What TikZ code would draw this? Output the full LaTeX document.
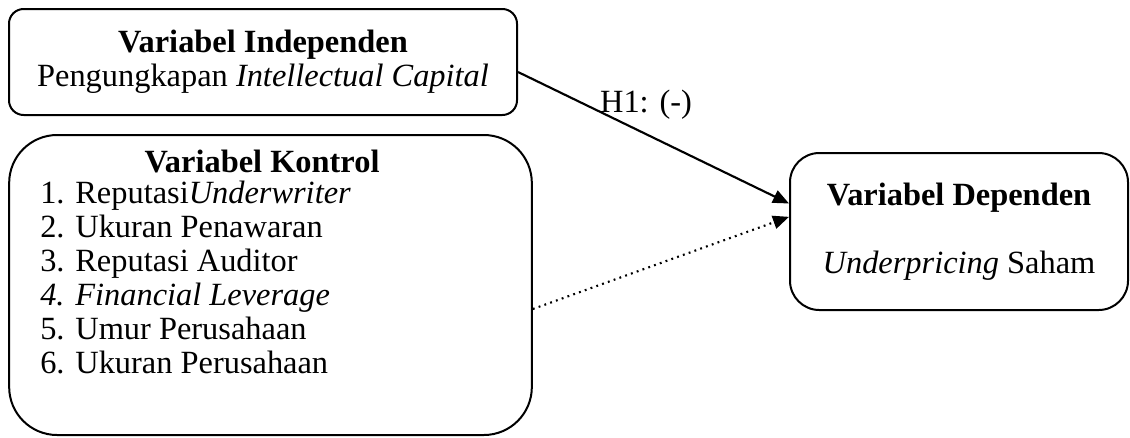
\documentclass[tikz,border=0pt]{standalone}
\usepackage{fontspec}
\setmainfont{Liberation Serif}
\usetikzlibrary{positioning,arrows.meta}

\begin{document}
\begin{tikzpicture}[x=0.75pt, y=-0.75pt, font=\fontsize{24.3}{25.5}\selectfont]
    % Define styles
    \tikzstyle{varbox} = [rectangle, draw=black, line width=1.5pt, align=center]
    \tikzstyle{arrow} = [line width=1.6pt, -{Triangle[length=12pt, width=10pt]}]
    \tikzstyle{dotarrow} = [line width=1.6pt, dash pattern=on 1.4pt off 3.2pt, -{Triangle[length=12pt, width=10pt]}]

    \useasboundingbox (0,0) rectangle (1130,437);

    % Nodes
    \node (independen) [varbox, rounded corners=11pt, minimum width=381pt, minimum height=79.5pt] at (263,62)
        {\textbf{Variabel Independen}\\Pengungkapan \textit{Intellectual Capital}};
    \node (kontrol) [varbox, rounded corners=36pt, minimum width=392pt, minimum height=225pt] at (270.5,285) {};
    \node (kontrol title) at (262,161) {\textbf{Variabel Kontrol}};
    \node (kontrol list) [anchor=north west, align=left, inner sep=0pt] at (40,181)
        {1. Reputasi\textit{Underwriter}\\2. Ukuran Penawaran\\3. Reputasi Auditor\\\textit{4. Financial Leverage}\\5. Umur Perusahaan\\6. Ukuran Perusahaan};
    \node (dependen) [varbox, rounded corners=22pt, minimum width=253.5pt, minimum height=117.75pt] at (959,231.5)
        {\textbf{Variabel Dependen}\\[25.5pt]\textit{Underpricing} Saham};
    \node (h1) at (646,105) {H1: (-)};

    % Arrows
    \draw [arrow] ([yshift=-7.5pt]independen.east) -- ([yshift=21pt]dependen.west);
    \draw [dotarrow] ([yshift=-18pt]kontrol.east) -- ([yshift=11pt]dependen.west);
\end{tikzpicture}
\end{document}
